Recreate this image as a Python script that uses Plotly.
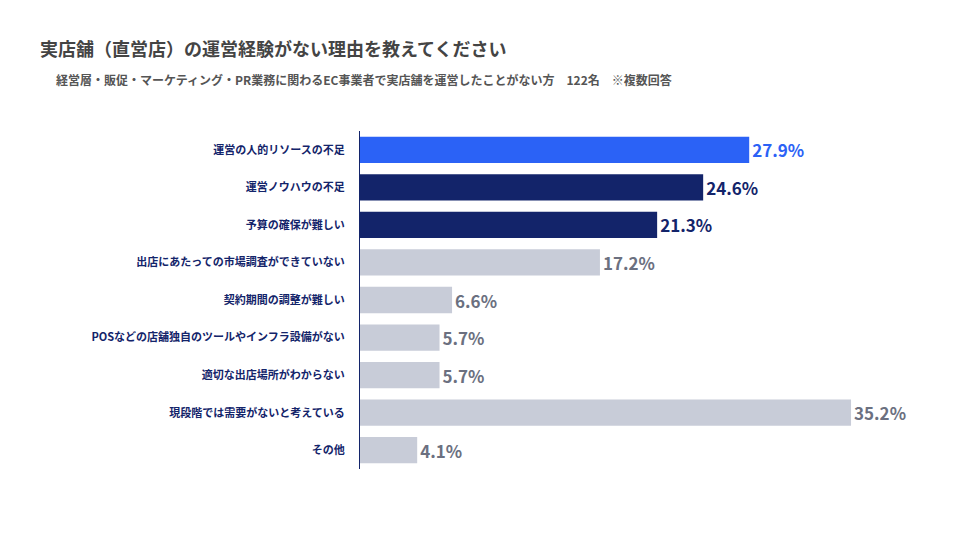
import plotly.graph_objects as go

categories = [
    "運営の人的リソースの不足",
    "運営ノウハウの不足",
    "予算の確保が難しい",
    "出店にあたっての市場調査ができていない",
    "契約期間の調整が難しい",
    "POSなどの店舗独自のツールやインフラ設備がない",
    "適切な出店場所がわからない",
    "現段階では需要がないと考えている",
    "その他",
]
values = [27.9, 24.6, 21.3, 17.2, 6.6, 5.7, 5.7, 35.2, 4.1]

BLUE = "#2b62f6"
NAVY = "#13246a"
GRAY = "#c8ccd8"
GRAY_TXT = "#6b7080"
bar_colors = [BLUE, NAVY, NAVY] + [GRAY] * 6
text_colors = [BLUE, NAVY, NAVY] + [GRAY_TXT] * 6

fig = go.Figure(go.Bar(
    x=values, y=categories, orientation="h",
    marker=dict(color=bar_colors, line=dict(width=0)),
    width=0.7,
    text=[f"<b>{v:.1f}%</b>" for v in values],
    textposition="outside",
    textfont=dict(size=17, color=text_colors, family="Noto Sans CJK JP"),
    cliponaxis=False,
))

fig.update_layout(
    width=960, height=540,
    plot_bgcolor="white", paper_bgcolor="white",
    margin=dict(l=352, r=50, t=123, b=79),
    font=dict(family="Noto Sans CJK JP"),
    showlegend=False,
    xaxis=dict(range=[0, 40], visible=False, automargin=False),
    yaxis=dict(
        autorange="reversed", automargin=False,
        showline=True, linecolor=NAVY, linewidth=1,
        ticks="", ticklabelstandoff=12,
        tickfont=dict(size=11, color=NAVY, weight="bold"),
    ),
    annotations=[
        dict(text="<b>実店舗（直営店）の運営経験がない理由を教えてください</b>",
             xref="paper", yref="paper", x=(30 - 352) / 558, y=1 + (123 - 40) / 337.5,
             xanchor="left", yanchor="middle", showarrow=False,
             font=dict(size=18, color="#444444")),
        dict(text="<b>経営層・販促・マーケティング・PR業務に関わるEC事業者で実店舗を運営したことがない方　122名　※複数回答</b>",
             xref="paper", yref="paper", x=(46 - 352) / 558, y=1 + (123 - 72) / 337.5,
             xanchor="left", yanchor="middle", showarrow=False,
             font=dict(size=12, color="#555555")),
    ],
)

fig.write_html("out.html")
